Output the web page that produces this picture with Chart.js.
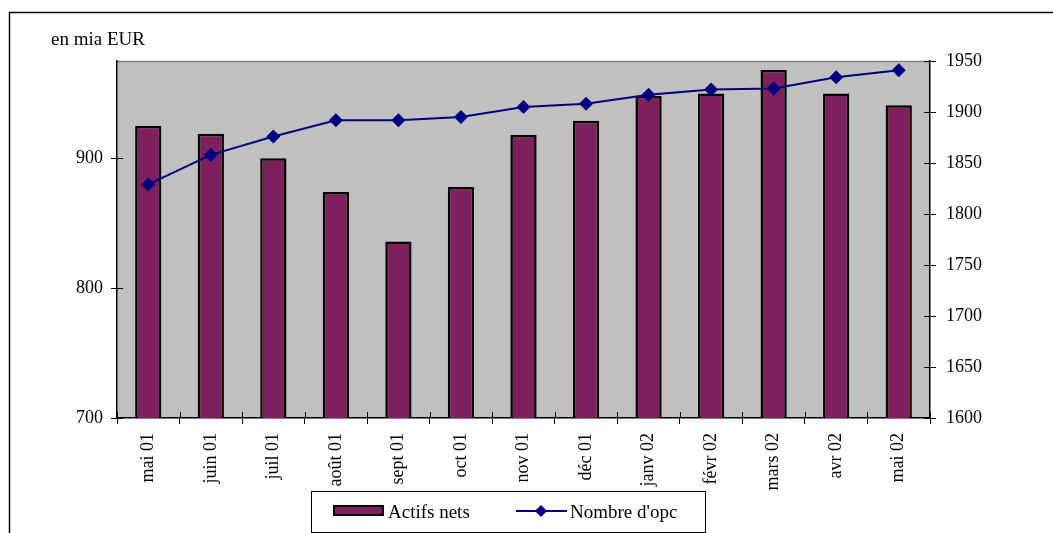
<!DOCTYPE html>
<html>
<head>
<meta charset="utf-8">
<script src="https://cdn.jsdelivr.net/npm/chart.js@4"></script>
<style>
  html, body { margin: 0; padding: 0; background: #fff; overflow: hidden; }
  canvas { display: block; }
</style>
</head>
<body>
<canvas id="chart" width="1053" height="533"></canvas>
<script>
// Monthly net assets (left axis, bn EUR) and number of funds (right axis)
const months = ['mai 01', 'juin 01', 'juil 01', 'août 01', 'sept 01', 'oct 01', 'nov 01',
                'déc 01', 'janv 02', 'févr 02', 'mars 02', 'avr 02', 'mai 02'];
const actifsNets = [925, 919, 900, 874, 836, 878, 918, 929, 948, 950, 968, 950, 941];
const nombreOpc = [1829, 1858, 1876, 1892, 1892, 1895, 1905, 1908, 1917, 1922, 1923, 1934, 1941];
const leftTicks = [700, 800, 900];
const rightTicks = [1600, 1650, 1700, 1750, 1800, 1850, 1900, 1950];
const unitLabel = 'en mia EUR';

const SERIF = "'Liberation Serif', 'Times New Roman', serif";
const BAR_FILL = '#7e1f5e';
const LINE_COL = '#000080';

// Grey plot background with a grey top edge
const plotBackground = {
  id: 'plotBackground',
  beforeDraw(chart) {
    const { ctx, chartArea: a } = chart;
    ctx.save();
    ctx.fillStyle = '#c0c0c0';
    ctx.fillRect(a.left, a.top, a.right - a.left, a.bottom - a.top);
    ctx.strokeStyle = '#808080';
    ctx.lineWidth = 1.5;
    ctx.beginPath();
    ctx.moveTo(a.left, a.top + 0.5);
    ctx.lineTo(a.right, a.top + 0.5);
    ctx.stroke();
    ctx.restore();
  }
};

// Tick marks that cross the axis lines into the plot area
const crossTicks = {
  id: 'crossTicks',
  afterDraw(chart) {
    const { ctx, chartArea: a, scales } = chart;
    ctx.save();
    ctx.strokeStyle = '#000';
    ctx.lineWidth = 1;
    ctx.beginPath();
    scales.y.ticks.forEach(t => {
      const y = Math.round(scales.y.getPixelForValue(t.value)) + 0.5;
      ctx.moveTo(a.left, y); ctx.lineTo(a.left + 6, y);
    });
    scales.y1.ticks.forEach(t => {
      const y = Math.round(scales.y1.getPixelForValue(t.value)) + 0.5;
      ctx.moveTo(a.right - 6, y); ctx.lineTo(a.right, y);
    });
    for (let i = 0; i <= months.length; i++) {
      const x = Math.round(scales.x.getPixelForValue(i - 0.5)) + 0.5;
      ctx.moveTo(x, a.bottom - 6); ctx.lineTo(x, a.bottom);
    }
    ctx.stroke();
    ctx.restore();
  }
};

// Outer frame, unit caption and boxed legend
const frameAndLegend = {
  id: 'frameAndLegend',
  afterDraw(chart) {
    const { ctx } = chart;
    const [bars, line] = chart.data.datasets;
    ctx.save();
    ctx.strokeStyle = '#000';
    ctx.lineWidth = 1.5;
    ctx.strokeRect(9.5, 12.5, 1100, 600);

    ctx.fillStyle = '#000';
    ctx.font = `19px ${SERIF}`;
    ctx.textBaseline = 'alphabetic';
    ctx.textAlign = 'left';
    ctx.fillText(unitLabel, 51, 45);

    // legend frame
    ctx.lineWidth = 1;
    ctx.strokeRect(311.5, 491.5, 394, 41);

    // bar entry
    ctx.fillStyle = bars.backgroundColor;
    ctx.fillRect(334, 506, 49, 9);
    ctx.lineWidth = 2;
    ctx.strokeStyle = '#000';
    ctx.strokeRect(334, 506, 49, 9);
    ctx.fillStyle = '#000';
    ctx.fillText(bars.label, 388, 518);

    // line entry
    ctx.strokeStyle = line.borderColor;
    ctx.lineWidth = 2;
    ctx.beginPath();
    ctx.moveTo(516, 511); ctx.lineTo(567, 511);
    ctx.stroke();
    ctx.fillStyle = line.pointBackgroundColor;
    ctx.beginPath();
    ctx.moveTo(541, 505); ctx.lineTo(547, 511); ctx.lineTo(541, 517); ctx.lineTo(535, 511);
    ctx.closePath();
    ctx.fill();
    ctx.fillStyle = '#000';
    ctx.fillText(line.label, 570, 518);
    ctx.restore();
  }
};

const tickFont = { family: SERIF, size: 18 };
const plainNumber = v => String(v);

new Chart(document.getElementById('chart'), {
  type: 'bar',
  data: {
    labels: months,
    datasets: [
      {
        type: 'bar',
        label: 'Actifs nets',
        data: actifsNets,
        yAxisID: 'y',
        backgroundColor: BAR_FILL,
        borderColor: '#000',
        borderWidth: 2.5,
        borderSkipped: false,
        barPercentage: 0.42,
        categoryPercentage: 1,
        order: 2
      },
      {
        type: 'line',
        label: "Nombre d'opc",
        data: nombreOpc,
        yAxisID: 'y1',
        borderColor: LINE_COL,
        borderWidth: 2,
        tension: 0,
        pointStyle: 'rectRot',
        pointRadius: 7,
        pointBackgroundColor: LINE_COL,
        pointBorderColor: LINE_COL,
        pointBorderWidth: 0,
        order: 1
      }
    ]
  },
  options: {
    responsive: false,
    animation: false,
    devicePixelRatio: 1,
    layout: { padding: { top: 61, left: 0, right: 0, bottom: 0 } },
    plugins: {
      legend: { display: false },
      title: { display: false },
      tooltip: { enabled: false }
    },
    scales: {
      x: {
        offset: true,
        grid: { offset: true, drawOnChartArea: false, drawTicks: true, tickLength: 6, color: '#000', lineWidth: 1 },
        border: { color: '#000', width: 1.5 },
        ticks: { font: tickFont, color: '#000', maxRotation: 90, minRotation: 90, padding: 9, autoSkip: false },
        afterFit(scale) { scale.height = 115; }
      },
      y: {
        position: 'left',
        min: 700,
        max: 975,
        grid: { drawOnChartArea: false, tickLength: 6, color: '#000', lineWidth: 1 },
        border: { color: '#000', width: 1.5 },
        ticks: { font: tickFont, color: '#000', padding: 8, callback: plainNumber },
        afterBuildTicks(scale) { scale.ticks = leftTicks.map(v => ({ value: v })); },
        afterFit(scale) { scale.width = 117; }
      },
      y1: {
        position: 'right',
        min: 1600,
        max: 1950,
        grid: { drawOnChartArea: false, tickLength: 6, color: '#000', lineWidth: 1 },
        border: { color: '#000', width: 1.5 },
        ticks: { font: tickFont, color: '#000', padding: 10, callback: plainNumber },
        afterBuildTicks(scale) { scale.ticks = rightTicks.map(v => ({ value: v })); },
        afterFit(scale) { scale.width = 123; }
      }
    }
  },
  plugins: [plotBackground, crossTicks, frameAndLegend]
});
</script>
</body>
</html>
